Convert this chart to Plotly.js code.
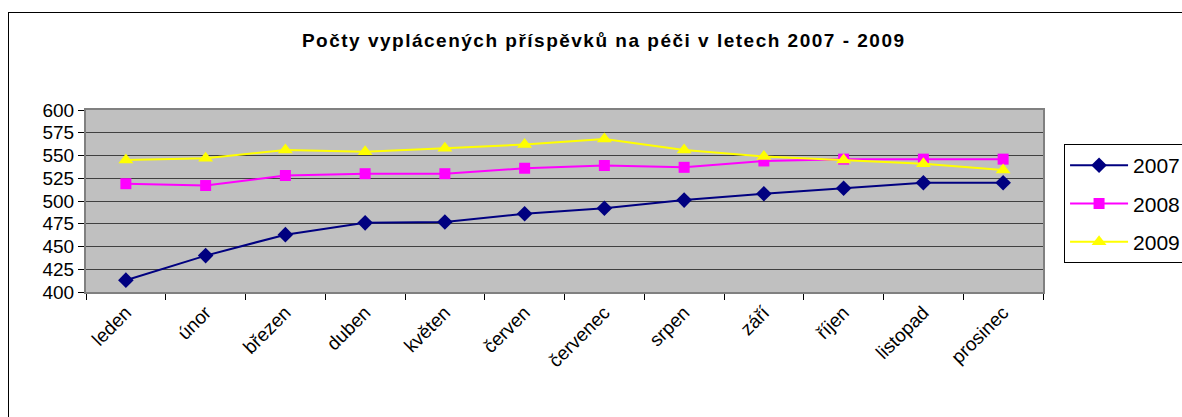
<!DOCTYPE html>
<html>
<head>
<meta charset="utf-8">
<script src="https://cdn.plot.ly/plotly-3.0.1.min.js"></script>
<style>
html,body{margin:0;padding:0;background:#fff;overflow:hidden;width:1182px;height:417px;}
#chart{position:absolute;left:8px;top:12px;width:1200px;height:420px;border:1.5px solid #000;box-sizing:content-box;}
#chart .gtitle{letter-spacing:1.5px;}
</style>
</head>
<body>
<div id="chart"></div>
<script>
const months = ["leden","únor","březen","duben","květen","červen","červenec","srpen","září","říjen","listopad","prosinec"];
const y2007 = [413,440,463,476,477,486,492,501,508,514,520,520];
const y2008 = [519,517,528,530,530,536,539,537,544,546,546,546];
const y2009 = [545,547,556,554,558,562,568,556,549,545,541,534];
const seriesNames = ["2007","2008","2009"];

const FONT = "Liberation Sans, Arial, sans-serif";

function tr(name, y, color, symbol, size){
  return {
    x: months, y: y, name: name, type: "scatter", mode: "lines+markers",
    legendgroup: name,
    line: {color: color, width: 2},
    marker: {color: color, symbol: symbol, size: size, line: {width: 0}}
  };
}
const data = [
  tr(seriesNames[0], y2007, "#000080", "diamond", 12),
  tr(seriesNames[1], y2008, "#ff00ff", "square", 11),
  tr(seriesNames[2], y2009, "#ffff00", "triangle-up", 13)
];

const layout = {
  width: 1200, height: 420,
  margin: {l: 77, r: 166, t: 97, b: 141},
  paper_bgcolor: "#ffffff",
  plot_bgcolor: "#c0c0c0",
  font: {family: FONT, color: "#000", size: 19},
  title: {
    text: "<b>Počty vyplácených příspěvků na péči v letech 2007 - 2009</b>",
    font: {family: FONT, size: 19, color: "#000"},
    xref: "paper", x: 0.541, xanchor: "center",
    yref: "container", y: 1 - 27/420, yanchor: "middle"
  },
  xaxis: {
    type: "category",
    tickangle: -45,
    tickson: "boundaries",
    ticks: "outside", ticklen: 6, tickcolor: "#000",
    showline: true, linecolor: "#808080", linewidth: 2, mirror: true,
    showgrid: false, zeroline: false,
    tickfont: {family: FONT, size: 19, color: "#000"},
    range: [-0.5, 11.5]
  },
  yaxis: {
    range: [400, 600],
    tickmode: "linear", tick0: 400, dtick: 25,
    ticks: "outside", ticklen: 6, tickcolor: "#000",
    showline: true, linecolor: "#808080", linewidth: 2, mirror: true,
    showgrid: true, gridcolor: "#404040", gridwidth: 1,
    zeroline: false,
    tickfont: {family: FONT, size: 19, color: "#000"}
  },
  showlegend: true,
  legend: {
    x: 1.022, xanchor: "left",
    y: 0.813, yanchor: "top",
    bordercolor: "#000", borderwidth: 1,
    bgcolor: "#fff",
    font: {family: FONT, size: 21, color: "#000"},
    tracegroupgap: 8,
    itemwidth: 58
  }
};

Plotly.newPlot("chart", data, layout, {displayModeBar: false, staticPlot: true});
</script>
</body>
</html>
